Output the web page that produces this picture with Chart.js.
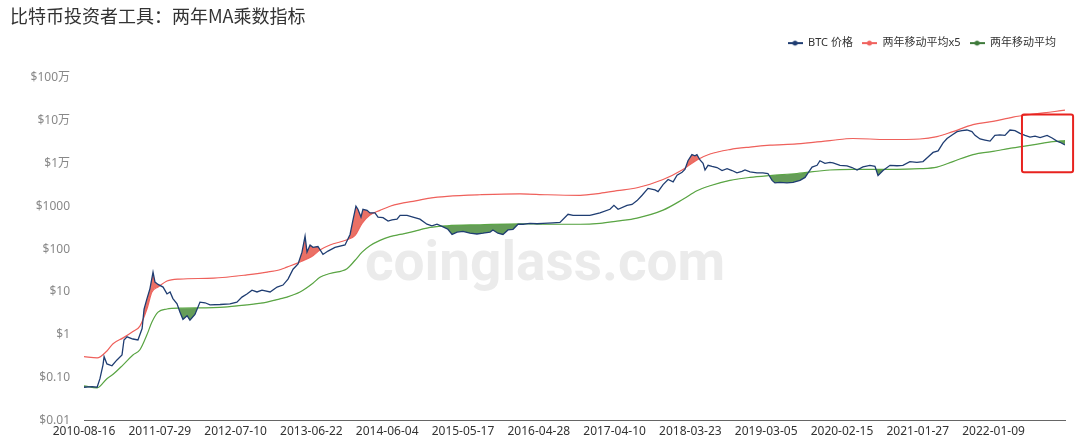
<!DOCTYPE html>
<html>
<head>
<meta charset="utf-8">
<script src="https://cdn.jsdelivr.net/npm/chart.js@4.4.0/dist/chart.umd.min.js"></script>
<style>
html, body { margin:0; padding:0; background:#fff; }
#wrap { width:1080px; height:443px; position:relative; }
</style>
</head>
<body>
<div id="wrap"><canvas id="mmchart"></canvas></div>
<script>
var chartTitle = '比特币投资者工具：两年MA乘数指标'
var seriesNames = ['BTC 价格', '两年移动平均x5', '两年移动平均']
var watermark = 'coinglass.com'

// x 轴: 从 2010-08-16 起算的天数
var tickDays = [0, 347, 694, 1041, 1388, 1735, 2082, 2429, 2776, 3123, 3470, 3817, 4164]
var tickLabels = ['2010-08-16', '2011-07-29', '2012-07-10', '2013-06-22', '2014-06-04', '2015-05-17',
                  '2016-04-28', '2017-04-10', '2018-03-23', '2019-03-05', '2020-02-15', '2021-01-27', '2022-01-09']
var lastDay = 4491
var yTicks = [0.01, 0.1, 1, 10, 100, 1000, 10000, 100000, 1000000]
var yTickLabels = ['$0.01', '$0.10', '$1', '$10', '$100', '$1000', '$1万', '$10万', '$100万']

var priceDays = [0, 37, 60, 73, 87, 92, 105, 128, 151, 174, 183, 197, 224, 247, 266, 275, 288, 302, 316, 325,
    339, 362, 380, 394, 407, 426, 439, 453, 472, 485, 508, 531, 554, 577, 623, 668, 700, 723, 746, 769,
    792, 815, 852, 884, 911, 934, 957, 980, 998, 1012, 1021, 1035, 1048, 1071, 1094, 1117, 1149, 1195, 1218, 1231,
    1245, 1254, 1268, 1277, 1296, 1309, 1332, 1346, 1369, 1392, 1410, 1433, 1447, 1479, 1506, 1538, 1570, 1593, 1616, 1644,
    1666, 1685, 1708, 1735, 1767, 1799, 1827, 1859, 1872, 1895, 1918, 1941, 1964, 1987, 2010, 2042, 2074, 2101, 2147, 2179,
    2216, 2239, 2271, 2316, 2362, 2408, 2426, 2445, 2486, 2509, 2532, 2555, 2582, 2614, 2628, 2651, 2674, 2697, 2715, 2738,
    2751, 2765, 2783, 2797, 2806, 2820, 2834, 2843, 2857, 2875, 2898, 2921, 2944, 2967, 2989, 3012, 3026, 3049, 3081, 3108,
    3131, 3150, 3163, 3186, 3218, 3246, 3278, 3301, 3315, 3333, 3356, 3369, 3392, 3415, 3429, 3461, 3493, 3516, 3539, 3566,
    3598, 3621, 3635, 3658, 3690, 3722, 3749, 3781, 3813, 3841, 3864, 3887, 3910, 3933, 3951, 3974, 3997, 4019, 4042, 4065,
    4079, 4102, 4125, 4148, 4170, 4193, 4216, 4239, 4262, 4285, 4308, 4331, 4354, 4377, 4409, 4432, 4454, 4468, 4491]
var priceValues = [0.06, 0.062, 0.06, 0.095, 0.2, 0.31, 0.21, 0.19, 0.26, 0.34, 0.76, 0.9, 0.8, 0.76, 1.4, 4.0, 6.9, 12, 29, 17,
    15, 13, 9, 10, 7, 5.3, 3.4, 2.3, 2.8, 2.2, 3.0, 5.8, 5.6, 5.0, 5.1, 5.3, 5.8, 7.6, 9, 11,
    10, 11, 10, 13, 14.5, 20, 34, 45, 85, 200, 85, 125, 110, 115, 75, 90, 110, 125, 220, 470,
    1000, 850, 560, 850, 800, 700, 700, 560, 540, 450, 480, 500, 610, 610, 560, 500, 380, 350, 380, 330,
    290, 220, 250, 260, 235, 225, 235, 250, 280, 235, 220, 280, 290, 380, 380, 400, 390, 400, 410, 420,
    650, 610, 610, 610, 700, 850, 1050, 850, 1050, 1100, 1350, 1800, 2600, 2400, 2200, 3200, 4200, 3700, 5300, 6200,
    7200, 11500, 16000, 15000, 16000, 12000, 10000, 7000, 9000, 8500, 8000, 6800, 7500, 6800, 6000, 6500, 7000, 6300, 6000, 6000,
    5800, 4000, 3500, 3600, 3500, 3600, 4000, 4700, 6000, 8200, 9000, 11500, 10000, 10500, 10200, 9000, 8700, 8000, 7000, 8300,
    9000, 8500, 5200, 6800, 9000, 8800, 9000, 11000, 10500, 11000, 14000, 18000, 19500, 30000, 38000, 46000, 55000, 58000, 60000, 55000,
    45000, 37000, 35000, 33000, 45000, 46000, 45000, 60000, 58000, 50000, 45000, 41000, 43000, 40000, 45000, 39000, 33000, 31000, 27000]

var maDays = [0, 60, 105, 133, 179, 224, 256, 288, 311, 339, 380, 439, 591, 746, 838, 897, 929, 989, 1048, 1080,
    1126, 1204, 1241, 1273, 1309, 1355, 1401, 1447, 1506, 1584, 1662, 1813, 1996, 2120, 2271, 2362, 2440, 2532, 2651, 2742,
    2806, 2866, 2957, 3049, 3141, 3264, 3415, 3520, 3676, 3827, 3905, 3978, 4070, 4161, 4253, 4344, 4436, 4491]
var maValues = [0.065, 0.058, 0.095, 0.12, 0.2, 0.34, 0.45, 1.0, 2.0, 3.4, 4.0, 4.2, 4.3, 5.0, 5.8, 6.9, 7.6, 10, 16, 22,
    27, 35, 55, 85, 120, 160, 195, 220, 255, 320, 350, 370, 390, 380, 380, 400, 450, 530, 810, 1450,
    2300, 3000, 4000, 4700, 5200, 5800, 7000, 7200, 7200, 7500, 8200, 11000, 16000, 19000, 23000, 27000, 32000, 34000]
var ma5Values = [0.31, 0.29, 0.42, 0.62, 0.85, 1.2, 1.6, 4.0, 10, 13, 18, 20, 21, 25, 29, 33, 38, 50, 70, 95,
    125, 165, 210, 400, 620, 800, 1000, 1150, 1300, 1550, 1700, 1850, 1950, 1850, 1800, 2000, 2300, 2700, 4200, 7200,
    12000, 16500, 21000, 24000, 26500, 28500, 34000, 38000, 36000, 37000, 42000, 55000, 80000, 95000, 120000, 140000, 160000, 175000]

// 右上角红框 (天数, 价格)
var boxDays = [4294, 4528]
var boxValues = [6200, 138000]

function toPoints(days, vals) {
    var rtr = []
    for (var i = 0; i < days.length; i++) {
        rtr.push({x: days[i], y: vals[i]})
    }
    return rtr
}

function legendIcon(color) {
    var c = document.createElement('canvas')
    c.width = 15
    c.height = 8
    var g = c.getContext('2d')
    g.strokeStyle = color
    g.lineWidth = 2
    g.beginPath()
    g.moveTo(0, 4)
    g.lineTo(15, 4)
    g.stroke()
    g.fillStyle = color
    g.beginPath()
    g.arc(7.5, 4, 2.5, 0, Math.PI * 2)
    g.fill()
    return c
}

var watermarkPlugin = {
    id: 'watermark',
    beforeDatasetsDraw: function (chart) {
        var a = chart.chartArea
        var ctx = chart.ctx
        ctx.save()
        ctx.font = 'bold 55px Roboto, sans-serif'
        ctx.fillStyle = '#ebebeb'
        ctx.textAlign = 'center'
        ctx.textBaseline = 'middle'
        ctx.fillText(watermark, a.left + a.width * 0.47, a.top + a.height * 0.55)
        ctx.restore()
    }
}

var boxPlugin = {
    id: 'highlightBox',
    afterDatasetsDraw: function (chart) {
        var xs = chart.scales.x
        var ys = chart.scales.y
        var x1 = xs.getPixelForValue(boxDays[0])
        var x2 = xs.getPixelForValue(boxDays[1])
        var y1 = ys.getPixelForValue(boxValues[1])
        var y2 = ys.getPixelForValue(boxValues[0])
        var ctx = chart.ctx
        ctx.save()
        ctx.strokeStyle = '#e8231f'
        ctx.lineWidth = 2
        ctx.beginPath()
        ctx.roundRect(x1, y1, x2 - x1, y2 - y1, 2)
        ctx.stroke()
        ctx.restore()
    }
}

// 图例下方留白
var legendSpacer = {
    id: 'legendSpacer',
    beforeInit: function (chart) {
        var fit = chart.legend.fit
        chart.legend.fit = function () {
            fit.bind(chart.legend)()
            this.height += 19
        }
    }
}

var fontFamily = "'Noto Sans', 'Noto Sans CJK SC', sans-serif"
Chart.defaults.font.family = fontFamily

var config = {
    type: 'line',
    data: {
        datasets: [
            {
                label: seriesNames[0],
                data: toPoints(priceDays, priceValues),
                borderColor: '#1f3d72',
                borderWidth: 1.3,
                pointRadius: 0,
                pointStyle: legendIcon('#1f3d72'),
                tension: 0,
                fill: {target: 1, above: 'rgba(232, 96, 84, 0.9)', below: 'rgba(0,0,0,0)'}
            },
            {
                label: seriesNames[1],
                data: toPoints(maDays, ma5Values),
                borderColor: '#f0625e',
                borderWidth: 1.2,
                pointRadius: 0,
                pointStyle: legendIcon('#f0625e'),
                cubicInterpolationMode: 'monotone',
                fill: false
            },
            {
                label: seriesNames[2],
                data: toPoints(maDays, maValues),
                borderColor: '#5aa544',
                borderWidth: 1.2,
                pointRadius: 0,
                pointStyle: legendIcon('#3e7a3a'),
                cubicInterpolationMode: 'monotone',
                fill: false
            },
            {
                label: 'fill',
                data: toPoints(priceDays, priceValues),
                borderColor: 'rgba(0,0,0,0)',
                borderWidth: 0,
                pointRadius: 0,
                tension: 0,
                fill: {target: 2, above: 'rgba(0,0,0,0)', below: 'rgba(84, 146, 70, 0.9)'}
            }
        ]
    },
    options: {
        responsive: true,
        maintainAspectRatio: false,
        animation: false,
        layout: {padding: {left: 10, right: 15, top: 0, bottom: 0}},
        plugins: {
            title: {
                display: true,
                text: chartTitle,
                align: 'start',
                color: '#333',
                font: {size: 18, weight: 'normal', family: "'Noto Sans CJK SC', sans-serif"},
                padding: {top: 5, bottom: 2}
            },
            legend: {
                display: true,
                align: 'end',
                labels: {
                    usePointStyle: true,
                    pointStyleWidth: 15,
                    color: '#333',
                    font: {size: 11},
                    padding: 9,
                    filter: function (item) { return item.datasetIndex < 3 }
                }
            },
            tooltip: {enabled: false}
        },
        scales: {
            x: {
                type: 'linear',
                min: 0,
                max: lastDay,
                grid: {display: false, drawTicks: false},
                border: {display: true, color: '#666', width: 1},
                afterBuildTicks: function (scale) {
                    scale.ticks = tickDays.map(function (d) { return {value: d} })
                },
                ticks: {
                    color: '#333',
                    font: {size: 12},
                    maxRotation: 0,
                    autoSkip: false,
                    padding: 4,
                    callback: function (value) {
                        var i = tickDays.indexOf(value)
                        return i >= 0 ? tickLabels[i] : ''
                    }
                }
            },
            y: {
                type: 'logarithmic',
                min: 0.01,
                max: 1000000,
                grid: {display: false},
                border: {display: false},
                afterBuildTicks: function (scale) {
                    scale.ticks = yTicks.map(function (v) { return {value: v} })
                },
                afterFit: function (scale) {
                    scale.width = 74
                },
                ticks: {
                    color: '#888',
                    font: {size: 12},
                    padding: 6,
                    callback: function (value) {
                        var i = yTicks.indexOf(value)
                        return i >= 0 ? yTickLabels[i] : ''
                    }
                }
            }
        }
    },
    plugins: [watermarkPlugin, boxPlugin, legendSpacer]
}

new Chart(document.getElementById('mmchart').getContext('2d'), config)
</script>
</body>
</html>
